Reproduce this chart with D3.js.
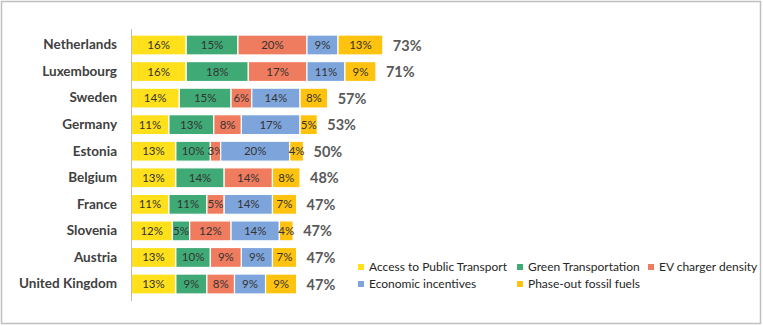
<!DOCTYPE html>
<html>
<head>
<meta charset="utf-8">
<script src="https://cdn.jsdelivr.net/npm/d3@7"></script>
<style>
  html, body { margin: 0; padding: 0; background: #fff; }
  svg { display: block; }
</style>
</head>
<body>
<svg id="chart" width="763" height="326"></svg>
<script>
const countries = ["Netherlands","Luxembourg","Sweden","Germany","Estonia","Belgium","France","Slovenia","Austria","United Kingdom"];
const seriesNames = ["Access to Public Transport","Green Transportation","EV charger density","Economic incentives","Phase-out fossil fuels"];
const accessPublicTransport = [16,16,14,11,13,13,11,12,13,13];
const greenTransportation   = [15,18,15,13,10,14,11,5,10,9];
const evChargerDensity      = [20,17,6,8,3,14,5,12,9,8];
const economicIncentives    = [9,11,14,17,20,0,14,14,9,9];
const phaseOutFossilFuels   = [13,9,8,5,4,8,7,4,7,9];
const totals = [73,71,57,53,50,48,47,47,47,47];
const colors = ["#FFE01B","#3FAA76","#F07C5F","#7EA5DB","#FFC20E"];

const seriesValues = [accessPublicTransport, greenTransportation, evChargerDensity, economicIncentives, phaseOutFossilFuels];
const rows = countries.map((c, i) => {
  const r = { country: c, total: totals[i] };
  seriesNames.forEach((s, j) => r[s] = seriesValues[j][i]);
  return r;
});

const svg = d3.select("#chart");
const font = "Lato, 'Open Sans', sans-serif";

// frame
svg.append("rect").attr("x", 1.5).attr("y", 1.5).attr("width", 759).attr("height", 322)
  .attr("fill", "#fff").attr("stroke", "#BFBFBF").attr("stroke-width", 1.5);

const x0 = 131;
const x = d3.scaleLinear().domain([0, 100]).range([0, 345]);
const y = d3.scaleBand().domain(countries).range([28.4, 300.6]).padding(0.25);

const stack = d3.stack().keys(seriesNames)(rows);

const g = svg.append("g").attr("transform", `translate(${x0},0)`);

const layers = g.selectAll("g.layer").data(stack).join("g")
  .attr("class", "layer").attr("fill", (d, i) => colors[i]);

layers.selectAll("rect").data(d => d.filter(p => p[1] - p[0] > 0)).join("rect")
  .attr("x", d => x(d[0]))
  .attr("y", d => y(d.data.country))
  .attr("width", d => x(d[1]) - x(d[0]))
  .attr("height", y.bandwidth())
  .attr("stroke", "#fff").attr("stroke-width", 1.2);

layers.selectAll("text").data(d => d.filter(p => p[1] - p[0] > 0)).join("text")
  .attr("x", d => x((d[0] + d[1]) / 2))
  .attr("y", d => y(d.data.country) + y.bandwidth() / 2)
  .attr("dy", "0.35em")
  .attr("text-anchor", "middle")
  .attr("fill", "#333")
  .style("font-family", font).style("font-size", "11.5px")
  .text(d => (d[1] - d[0]) + "%");

// totals
g.selectAll("text.total").data(rows).join("text")
  .attr("class", "total")
  .attr("x", d => x(d3.sum(seriesNames, s => d[s])) + 10)
  .attr("y", d => y(d.country) + y.bandwidth() / 2)
  .attr("dy", "0.38em")
  .attr("fill", "#595959")
  .style("font-family", font).style("font-size", "14.5px").style("font-weight", "bold")
  .text(d => d.total + "%");

// axis
const axis = g.append("g").call(d3.axisLeft(y).tickSize(0).tickSizeOuter(0).tickPadding(14));
axis.select(".domain").attr("stroke", "#BFBFBF").attr("stroke-width", 1);
axis.selectAll("text").attr("fill", "#404040")
  .style("font-family", font).style("font-size", "13.5px").style("font-weight", "bold");

// legend
const legendPos = [[358, 267], [517, 267], [648, 267], [358, 284], [517, 284]];
const legend = svg.append("g").selectAll("g").data(seriesNames).join("g")
  .attr("transform", (d, i) => `translate(${legendPos[i][0]},${legendPos[i][1]})`);
legend.append("rect").attr("x", 0).attr("y", -3).attr("width", 6).attr("height", 6)
  .attr("fill", (d, i) => colors[i]);
legend.append("text").attr("x", 11).attr("y", 0).attr("dy", "0.35em")
  .attr("fill", "#262626")
  .style("font-family", font).style("font-size", "12px")
  .text(d => d);
</script>
</body>
</html>
